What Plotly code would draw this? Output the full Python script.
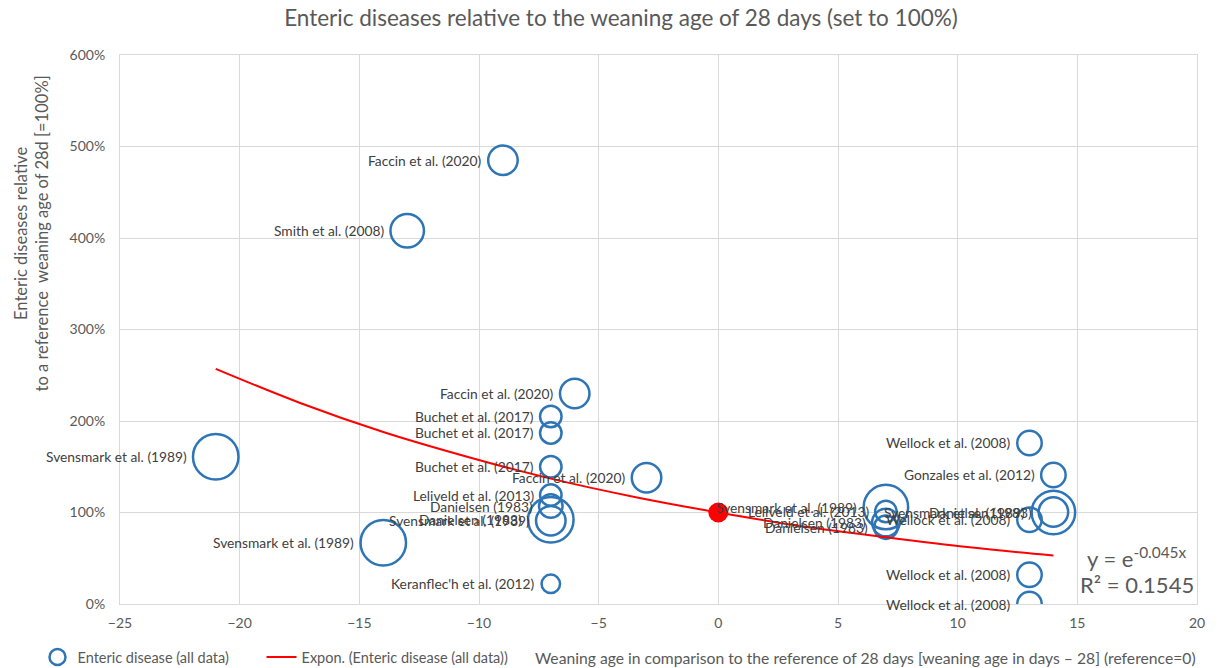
import plotly.graph_objects as go

# study points: weaning age offset (days vs 28 d) and enteric disease relative to 28 d (%)
LABELS = [
    "Faccin et al. (2020)", "Smith et al. (2008)", "Faccin et al. (2020)",
    "Buchet et al. (2017)", "Buchet et al. (2017)", "Svensmark et al. (1989)",
    "Buchet et al. (2017)", "Faccin et al. (2020)", "Leliveld et al. (2013)",
    "Danielsen (1983)", "Danielsen (1983)", "Svensmark et al. (1989)",
    "Svensmark et al. (1989)", "Keranflec'h et al. (2012)",
    "Svensmark et al. (1989)", "Leliveld et al. (2013)", "Danielsen (1983)",
    "Danielsen (1983)", "Wellock et al. (2008)", "Gonzales et al. (2012)",
    "Svensmark et al. (1989)", "Danielsen (1983)", "Wellock et al. (2008)",
    "Wellock et al. (2008)", "Wellock et al. (2008)",
]
AGE_DIFF = [-9, -13, -6, -7, -7, -21, -7, -3, -7, -7, -7, -7, -14, -7,
            7, 7, 7, 7, 13, 14, 14, 14, 13, 13, 13]
ENTERIC_PCT = [485, 408, 230, 205, 187, 161, 150, 138, 119, 107, 92, 91, 67, 22,
               106, 101, 89, 84, 176, 141, 100, 100.5, 92, 32, 0]
BUBBLE = [32, 36, 32, 24, 24, 48, 24, 32, 24, 26, 48, 32, 48, 21,
          47, 24, 30, 26, 27, 27, 46, 32, 27, 27, 27]

REF_X = [0]
REF_Y = [100]

# exponential trendline
TREND_X = [-21, -17.5, -14, -10.5, -7, -3.5, 0, 3.5, 7, 10.5, 14]
TREND_Y = [257, 220, 188, 161, 137, 117, 100, 85, 73, 62, 53]

X_TICKS = [-25, -20, -15, -10, -5, 0, 5, 10, 15, 20]
Y_TICKS = [0, 100, 200, 300, 400, 500, 600]
Y_TICK_TEXT = [f"{v}%" for v in Y_TICKS]

FONT = "Lato"
GREY = "#595959"
BLUE = "#2E75B6"
LW = 2.5

fig = go.Figure()

fig.add_trace(
    go.Scatter(
        x=AGE_DIFF, y=ENTERIC_PCT, mode="markers",
        name="Enteric disease (all data)", legend="legend",
        marker=dict(size=[s - LW for s in BUBBLE], color="rgba(0,0,0,0)", opacity=1,
                    line=dict(color=BLUE, width=LW)),
    )
)
fig.add_trace(
    go.Scatter(
        x=TREND_X, y=TREND_Y, mode="lines", line_shape="spline",
        name="Expon. (Enteric disease (all data))", legend="legend2",
        line=dict(color="#FF0000", width=2),
    )
)
fig.add_trace(
    go.Scatter(
        x=REF_X, y=REF_Y, mode="markers", showlegend=False,
        marker=dict(size=20, color="#FF0000", opacity=1),
    )
)

for lab, x, y, s in zip(LABELS, AGE_DIFF, ENTERIC_PCT, BUBBLE):
    fig.add_annotation(
        x=x, y=y, xref="x", yref="y", text=lab, showarrow=False,
        xanchor="right", yanchor="middle", xshift=-(s / 2 + 3),
        font=dict(family=FONT, size=13.8, color="#404040"),
    )

# trendline equation
fig.add_annotation(
    x=0.944, y=0.0856, xref="paper", yref="paper",
    text="y = e<sup>-0.045x</sup>", showarrow=False,
    xanchor="center", yanchor="middle",
    font=dict(family=FONT, size=22, color=GREY),
)
fig.add_annotation(
    x=0.944, y=0.0364, xref="paper", yref="paper",
    text="R² = 0.1545", showarrow=False,
    xanchor="center", yanchor="middle",
    font=dict(family=FONT, size=22, color=GREY),
)
fig.add_annotation(
    x=0.692, y=-0.098, xref="paper", yref="paper",
    text="Weaning age in comparison to the reference of 28 days [weaning age in days – 28] (reference=0)",
    showarrow=False, xanchor="center", yanchor="middle",
    font=dict(family=FONT, size=15.7, color=GREY),
)
fig.add_annotation(
    x=-0.0826, y=0.675, xref="paper", yref="paper",
    text="Enteric diseases relative<br>to a reference  weaning age of 28d [=100%]",
    showarrow=False, textangle=-90, xanchor="center", yanchor="middle",
    font=dict(family=FONT, size=16.5, color=GREY),
)

legend_style = dict(orientation="h", yref="container", y=0.0284, xanchor="left",
                    yanchor="middle", font=dict(family=FONT, size=14.5, color=GREY),
                    bgcolor="rgba(0,0,0,0)")

fig.update_layout(
    title=dict(text="Enteric diseases relative to the weaning age of 28 days (set to 100%)",
               x=0.5016, xref="container", y=0.985, yanchor="middle",
               font=dict(family=FONT, size=22.5, color=GREY)),
    width=1222, height=668,
    margin=dict(l=112, r=33, t=47, b=72, autoexpand=False),
    plot_bgcolor="white", paper_bgcolor="white",
    font=dict(family=FONT, color=GREY),
    xaxis=dict(range=[-25, 20], tickvals=X_TICKS, showgrid=True, gridcolor="#D9D9D9",
               zeroline=False, showline=True, linecolor="#D9D9D9", mirror=True,
               tickfont=dict(size=14, color=GREY), ticks="", ticklabelstandoff=6),
    yaxis=dict(range=[0, 600], tickmode="array", tickvals=Y_TICKS, ticktext=Y_TICK_TEXT,
               showgrid=True, gridcolor="#D9D9D9", zeroline=False, showline=True,
               linecolor="#D9D9D9", mirror=True, tickfont=dict(size=14, color=GREY),
               ticks="", ticklabelstandoff=11),
    legend=dict(x=-0.0766, **legend_style),
    legend2=dict(x=0.1314, **legend_style),
)

fig.write_html("out.html")
